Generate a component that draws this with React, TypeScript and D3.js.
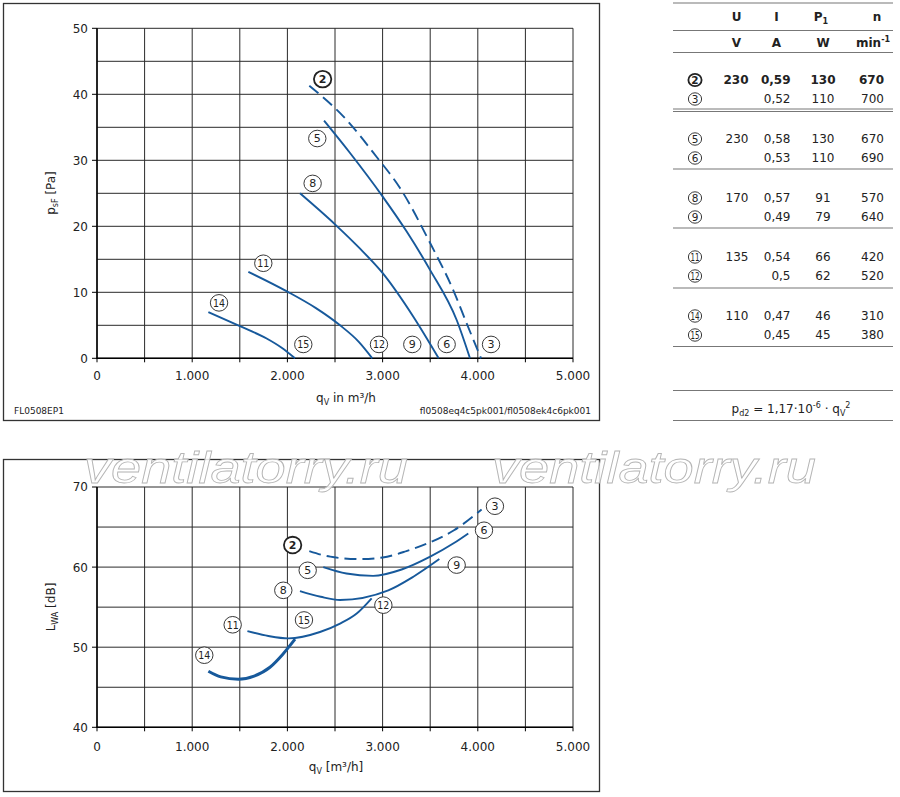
import React from "react";
import * as d3 from "d3";

// axis ticks / grid
const qGrid = [0, 500, 1000, 1500, 2000, 2500, 3000, 3500, 4000, 4500, 5000];
const qTicks = [0, 1000, 2000, 3000, 4000, 5000];
const qTickLabels = ["0", "1.000", "2.000", "3.000", "4.000", "5.000"];
const pGrid = [0, 5, 10, 15, 20, 25, 30, 35, 40, 45, 50];
const pTicks = [0, 10, 20, 30, 40, 50];
const lwaGrid = [40, 45, 50, 55, 60, 65, 70];
const lwaTicks = [40, 50, 60, 70];

// pressure curves [qV m3/h, psF Pa]
const p2to3: [number, number][] = [
  [2230, 41.3], [2623, 36.1], [2938, 30.5], [3183, 25.8], [3498, 17.5],
  [3743, 10.3], [3883, 5.3], [4034, 0],
];
const p5to6: [number, number][] = [
  [2385, 36.0], [2658, 31.1], [3001, 24.5], [3253, 19.2], [3498, 13.4],
  [3778, 5.8], [3918, 0],
];
const p8to9: [number, number][] = [
  [2132, 25.0], [2500, 20.3], [2750, 16.8], [3001, 12.9], [3323, 6.3], [3589, 0],
];
const p11to12: [number, number][] = [
  [1590, 13.1], [2000, 10.1], [2300, 7.6], [2553, 5.0], [2750, 2.5], [2892, 0],
];
const p14to15: [number, number][] = [
  [1170, 7.0], [1495, 4.9], [1782, 3.0], [1940, 1.6], [2080, 0],
];

// sound power curves [qV m3/h, LWA dB]
const l2to3: [number, number][] = [
  [2230, 62.0], [2450, 61.3], [2760, 61.0], [3000, 61.2], [3250, 62.0],
  [3500, 63.1], [3750, 64.6], [4040, 67.2],
];
const l5to6: [number, number][] = [
  [2377, 60.0], [2620, 59.2], [2900, 58.9], [3200, 59.7], [3500, 61.3],
  [3750, 63.0], [3900, 64.2],
];
const l8to9: [number, number][] = [
  [2132, 57.0], [2350, 56.3], [2553, 55.9], [3060, 57.1], [3323, 58.8], [3596, 61.0],
];
const l11to12: [number, number][] = [
  [1580, 52.0], [1800, 51.4], [2010, 51.1], [2342, 51.9], [2553, 52.95],
  [2728, 54.2], [2885, 56.1],
];
const l14to15: [number, number][] = [
  [1170, 47.0], [1300, 46.3], [1485, 46.0], [1650, 46.4], [1817, 47.5],
  [1950, 49.1], [2080, 51.0],
];

// curve markers [id, qV, value]
const pMarkers: [string, number, number][] = [
  ["2", 2370, 42.3], ["5", 2314, 33.3], ["8", 2265, 26.5], ["11", 1747, 14.4],
  ["14", 1282, 8.4], ["15", 2167, 2.1], ["12", 2962, 2.1], ["9", 3312, 2.1],
  ["6", 3673, 2.1], ["3", 4139, 2.1],
];
const lMarkers: [string, number, number][] = [
  ["3", 4180, 67.6], ["6", 4065, 64.6], ["9", 3778, 60.25], ["12", 3008, 55.25],
  ["15", 2174, 53.4], ["2", 2055, 62.75], ["5", 2213, 59.6], ["8", 1957, 57.1],
  ["11", 1425, 52.8], ["14", 1127, 49.0],
];

// table
const tableIds = ["2", "3", "5", "6", "8", "9", "11", "12", "14", "15"];
const tableU = ["230", "", "230", "", "170", "", "135", "", "110", ""];
const tableI = ["0,59", "0,52", "0,58", "0,53", "0,57", "0,49", "0,54", "0,5", "0,47", "0,45"];
const tableP = ["130", "110", "130", "110", "91", "79", "66", "62", "46", "45"];
const tableN = ["670", "700", "670", "690", "570", "640", "420", "520", "310", "380"];

const FONT = "'DejaVu Sans', sans-serif";
const BLUE = "#17599b";
const GRID = "#2a2a2a";

const xScale = d3.scaleLinear().domain([0, 5000]).range([97, 573]);
const yTop = d3.scaleLinear().domain([0, 50]).range([358.3, 28.3]);
const yBot = d3.scaleLinear().domain([40, 70]).range([727.3, 487]);

function Marker({ id, cx, cy, r, fs }: { id: string; cx: number; cy: number; r: number; fs: number }) {
  const bold = id === "2";
  const two = id.length > 1;
  return (
    <g>
      <ellipse cx={cx} cy={cy} rx={r + 0.4} ry={r} fill="white" stroke="#222" strokeWidth={bold ? 1.8 : 0.9} />
      <text
        x={cx}
        y={cy + fs * 0.36}
        textAnchor="middle"
        fontSize={fs}
        fontWeight={bold ? "bold" : "normal"}
        fontFamily={FONT}
        fill="#222"
        {...(two ? { textLength: r * 1.45, lengthAdjust: "spacingAndGlyphs" } : {})}
      >
        {id}
      </text>
    </g>
  );
}

function Panel({
  y,
  grid,
  ticks,
  curves,
  markers,
  tickY,
  thick,
}: {
  y: d3.ScaleLinear<number, number>;
  grid: number[];
  ticks: number[];
  curves: [number, number][][];
  markers: [string, number, number][];
  tickY: number;
  thick: boolean;
}) {
  const [y0, y1] = y.range();
  const line = d3
    .line<[number, number]>()
    .x((d) => xScale(d[0]))
    .y((d) => y(d[1]))
    .curve(d3.curveMonotoneX);
  return (
    <g>
      {grid.map((v) => (
        <line key={"h" + v} x1={97} x2={573} y1={y(v)} y2={y(v)} stroke={GRID} strokeWidth={1} />
      ))}
      {qGrid.map((q) => (
        <line key={"v" + q} x1={xScale(q)} x2={xScale(q)} y1={y0} y2={y1} stroke={GRID} strokeWidth={1} />
      ))}
      {qGrid.map((q) => (
        <line key={"t" + q} x1={xScale(q)} x2={xScale(q)} y1={y0} y2={y0 + 4} stroke="#000" strokeWidth={1} />
      ))}
      {ticks.map((v) => (
        <line key={"yt" + v} x1={92} x2={97} y1={y(v)} y2={y(v)} stroke="#000" strokeWidth={1} />
      ))}
      <line x1={97} x2={97} y1={y0 + 0.5} y2={y1} stroke="#000" strokeWidth={1.5} />
      <line x1={96.5} x2={573} y1={y0} y2={y0} stroke="#000" strokeWidth={1.5} />
      {ticks.map((v) => (
        <text key={"yl" + v} x={88} y={y(v) + 4.4} textAnchor="end" fontSize={12} fontFamily={FONT} fill="#222">
          {v}
        </text>
      ))}
      {qTicks.map((q, i) => (
        <text key={"xl" + q} x={xScale(q)} y={tickY} textAnchor="middle" fontSize={12} fontFamily={FONT} fill="#222">
          {qTickLabels[i]}
        </text>
      ))}
      {curves.map((c, i) => (
        <path
          key={"c" + i}
          d={line(c) || ""}
          fill="none"
          stroke={BLUE}
          strokeWidth={thick && i === 4 ? 3 : 1.9}
          strokeDasharray={i === 0 ? "12 6" : undefined}
        />
      ))}
      {markers.map(([id, q, v]) => (
        <Marker key={"m" + id} id={id} cx={xScale(q)} cy={y(v)} r={8.3} fs={11} />
      ))}
    </g>
  );
}

export default function App() {
  const rowY = (i: number) => 80 + Math.floor(i / 2) * 59 + (i % 2) * 19;
  const sepY = [169, 228, 288, 346.5];
  const cell = { fontSize: 12, fontFamily: FONT, fill: "#222" } as const;
  return (
    <svg width={900} height={797} style={{ position: "absolute", left: 0, top: 0, background: "white" }}>
      <rect x={0} y={0} width={900} height={797} fill="white" />
      {/* upper chart frame */}
      <rect x={3.5} y={3.5} width={596} height={417} fill="none" stroke="#333" strokeWidth={1.3} />
      <Panel
        y={yTop}
        grid={pGrid}
        ticks={pTicks}
        curves={[p2to3, p5to6, p8to9, p11to12, p14to15]}
        markers={pMarkers}
        tickY={379.5}
        thick={false}
      />
      <text x={55} y={193} transform="rotate(-90 55 193)" textAnchor="middle" {...cell}>
        p<tspan fontSize={8} dy={3}>sF</tspan>
        <tspan dy={-3}> [Pa]</tspan>
      </text>
      <text x={346} y={402} textAnchor="middle" {...cell}>
        q<tspan fontSize={8} dy={3}>V</tspan>
        <tspan dy={-3}> in m³/h</tspan>
      </text>
      <text x={14} y={414} fontSize={9} fontFamily={FONT} fill="#222">
        FL0508EP1
      </text>
      <text x={591} y={414} textAnchor="end" fontSize={9} fontFamily={FONT} fill="#222">
        fl0508eq4c5pk001/fl0508ek4c6pk001
      </text>

      {/* lower chart frame */}
      <rect x={3.5} y={459.5} width={596} height={332} fill="none" stroke="#333" strokeWidth={1.3} />
      <Panel
        y={yBot}
        grid={lwaGrid}
        ticks={lwaTicks}
        curves={[l2to3, l5to6, l8to9, l11to12, l14to15]}
        markers={lMarkers}
        tickY={750.5}
        thick={true}
      />
      <text x={55} y={607} transform="rotate(-90 55 607)" textAnchor="middle" {...cell}>
        L<tspan fontSize={8} dy={3}>WA</tspan>
        <tspan dy={-3}> [dB]</tspan>
      </text>
      <text x={336} y={771} textAnchor="middle" {...cell}>
        q<tspan fontSize={8} dy={3}>V</tspan>
        <tspan dy={-3}> [m³/h]</tspan>
      </text>

      {/* watermark */}
      {[84, 492].map((x) => (
        <text
          key={"wm" + x}
          x={x}
          y={483}
          fontSize={44}
          fontStyle="italic"
          fontFamily="'Liberation Sans', Arial, sans-serif"
          textLength={324}
          lengthAdjust="spacingAndGlyphs"
          fill="white"
          fillOpacity={0.85}
          stroke="#b5b5b5"
          strokeWidth={0.8}
        >
          ventilatorry.ru
        </text>
      ))}

      {/* table */}
      <line x1={673} x2={893} y1={3} y2={3} stroke="#777" strokeWidth={1.2} />
      <line x1={673} x2={893} y1={30.5} y2={30.5} stroke="#777" strokeWidth={1.2} />
      <line x1={673} x2={893} y1={52.5} y2={52.5} stroke="#777" strokeWidth={1.2} />
      <text x={736.5} y={21} textAnchor="middle" fontWeight="bold" {...cell}>U</text>
      <text x={776.5} y={21} textAnchor="middle" fontWeight="bold" {...cell}>I</text>
      <text x={821} y={21} textAnchor="middle" fontWeight="bold" {...cell}>
        P<tspan fontSize={8} dy={3}>1</tspan>
      </text>
      <text x={877} y={21} textAnchor="middle" fontWeight="bold" {...cell}>n</text>
      <text x={736.5} y={47} textAnchor="middle" fontWeight="bold" {...cell}>V</text>
      <text x={776.5} y={47} textAnchor="middle" fontWeight="bold" {...cell}>A</text>
      <text x={823} y={47} textAnchor="middle" fontWeight="bold" {...cell}>W</text>
      <text x={873} y={47} textAnchor="middle" fontWeight="bold" {...cell}>
        min<tspan fontSize={8} dy={-5}>-1</tspan>
      </text>
      {tableIds.map((id, i) => {
        const yy = rowY(i);
        const b = i === 0 ? "bold" : "normal";
        return (
          <g key={"row" + id}>
            <Marker id={id} cx={695} cy={yy} r={6.2} fs={10.5} />
            <text x={748.5} y={yy + 4.4} textAnchor="end" fontWeight={b} {...cell}>{tableU[i]}</text>
            <text x={790.5} y={yy + 4.4} textAnchor="end" fontWeight={b} {...cell}>{tableI[i]}</text>
            <text x={823} y={yy + 4.4} textAnchor="middle" fontWeight={b} {...cell}>{tableP[i]}</text>
            <text x={884} y={yy + 4.4} textAnchor="end" fontWeight={b} {...cell}>{tableN[i]}</text>
          </g>
        );
      })}
      <line x1={673} x2={893} y1={109} y2={109} stroke="#777" strokeWidth={1} />
      <line x1={673} x2={893} y1={111.5} y2={111.5} stroke="#777" strokeWidth={1} />
      {sepY.map((s) => (
        <line key={"sep" + s} x1={673} x2={893} y1={s} y2={s} stroke="#777" strokeWidth={1.2} />
      ))}
      <line x1={673} x2={893} y1={390.5} y2={390.5} stroke="#777" strokeWidth={1.2} />
      <text x={791} y={413} textAnchor="middle" {...cell}>
        p<tspan fontSize={8} dy={3}>d2</tspan>
        <tspan dy={-3}> = 1,17·10</tspan>
        <tspan fontSize={8} dy={-5}>-6</tspan>
        <tspan dy={5}> · q</tspan>
        <tspan fontSize={8} dy={3}>V</tspan>
        <tspan fontSize={8} dy={-8}>2</tspan>
      </text>
      <line x1={673} x2={893} y1={420.5} y2={420.5} stroke="#777" strokeWidth={1.2} />
    </svg>
  );
}
